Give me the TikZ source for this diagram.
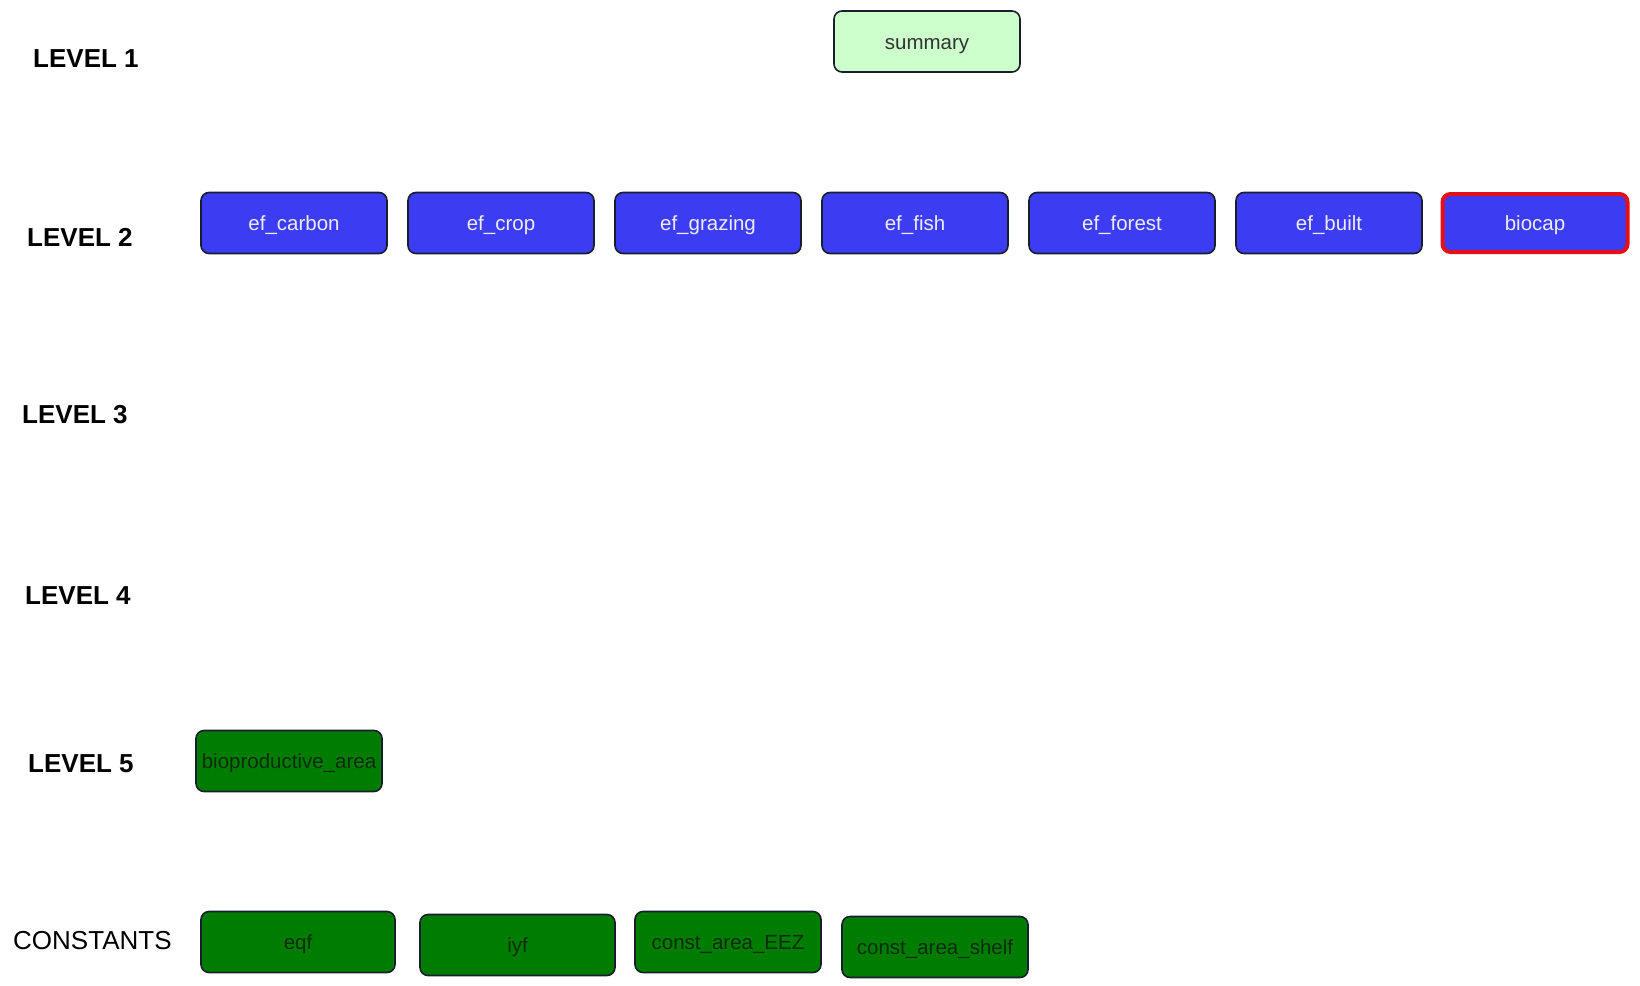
\documentclass[tikz,border=0pt]{standalone}
\usepackage{fontspec}
\setmainfont{Liberation Sans}
\usepackage{tikz}
\usetikzlibrary{positioning}
\usepackage{xcolor}
\definecolor{BoxBlue} {RGB}{60, 60, 242}
\definecolor{BoxGreen}{RGB}{0, 125, 0}
\definecolor{MintL}   {RGB}{204,255,204}
\definecolor{EdgeD}   {RGB}{25, 30, 45}
\definecolor{AlertR}  {RGB}{228, 16, 24}
\definecolor{TxtG}    {RGB}{12, 45, 12}

\begin{document}
\begin{tikzpicture}[x=1pt,y=-1pt,
    lvl/.style={anchor=west,inner sep=0pt,font=\fontsize{26}{30}\selectfont\bfseries},
    var/.style={draw=EdgeD,line width=1.6pt,rounded corners=8pt,minimum width=186pt,
      minimum height=61pt,inner sep=0pt,text height=15pt,text depth=0pt,
      font=\fontsize{20.5}{24}\selectfont},
    efbox/.style={var,fill=BoxBlue,text=white!90!BoxBlue},
    cbox/.style={var,fill=BoxGreen,text=TxtG}]
        \useasboundingbox (0,0) rectangle (1640,985);
        % level labels
        \node[lvl] (l1) at (33,59) {LEVEL 1};
        \node[lvl] (l2) at (27,237) {LEVEL 2};
        \node[lvl] (l3) at (22,415) {LEVEL 3};
        \node[lvl] (l4) at (25,596) {LEVEL 4};
        \node[lvl] (l5) at (28,764) {LEVEL 5};
        \node[lvl,font=\fontsize{26}{30}\selectfont] (lc) at (13,941) {CONSTANTS};
        % level 1
        \node[var,fill=MintL,text=black!80] (summary) at (927,41.5) {summary};
        % level 2
        \foreach \x/\n in {294/ef_carbon,501/ef_crop,708/ef_grazing,915/ef_fish,
                           1122/ef_forest,1329/ef_built}
          \node[efbox] (\n) at (\x,223) {\detokenize\expandafter{\n}};
        \node[efbox,draw=AlertR,line width=4pt,minimum width=185pt,minimum height=58pt]
          (biocap) at (1535,223) {biocap};
        % level 5
        \node[cbox] (bioarea) at (289,761) {bioproductive\_area};
        % constants
        \node[cbox,minimum width=194pt] (eqf) at (298,942) {eqf};
        \node[cbox,minimum width=195pt] (iyf) at (517.5,945) {iyf};
        \node[cbox] (eez) at (728,942) {const\_area\_EEZ};
        \node[cbox] (shelf) at (935,947) {const\_area\_shelf};
      \end{tikzpicture}
\end{document}
